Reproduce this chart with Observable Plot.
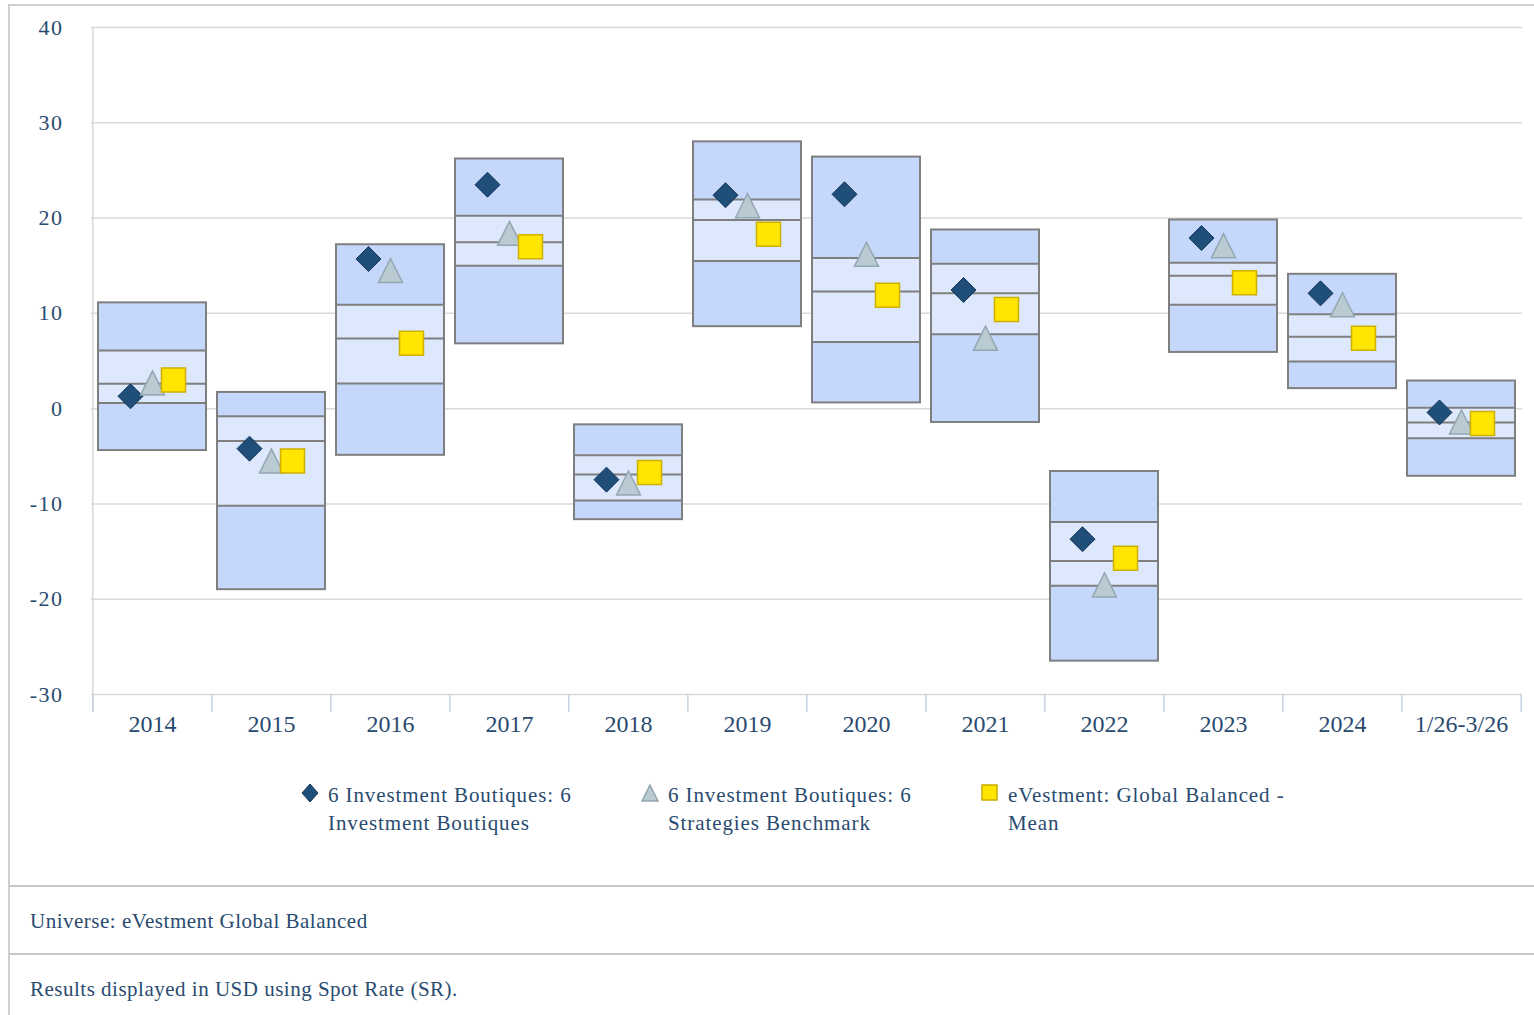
<!DOCTYPE html>
<html><head><meta charset="utf-8">
<script src="https://cdn.jsdelivr.net/npm/d3@7"></script>
<script src="https://cdn.jsdelivr.net/npm/@observablehq/plot@0.6"></script>
<style>
body{margin:0;background:#fff;}
#wrap{position:relative;width:1534px;height:1015px;overflow:hidden;font-family:"Liberation Serif","Times New Roman",serif;color:#2a4b70;}
#chart{position:absolute;left:0;top:0;}
.frameL{position:absolute;left:8px;top:4px;width:2px;height:1015px;background:#cfcfcf;}
.frameT{position:absolute;left:8px;top:4px;width:1530px;height:2px;background:#cfcfcf;}
.hsep{position:absolute;left:8px;width:1530px;height:2px;background:#c8c8c8;}
.foot{position:absolute;left:30px;font-size:21px;line-height:24px;white-space:nowrap;letter-spacing:0.5px;}
.leg{position:absolute;font-size:21px;line-height:28px;white-space:nowrap;letter-spacing:0.9px;}
.legsym{position:absolute;}
#chart svg text{font-family:"Liberation Serif","Times New Roman",serif;}
#chart g[aria-label="y-axis tick label"] text{letter-spacing:1.5px;}
</style></head><body>
<div id="wrap">
  <div class="frameL"></div><div class="frameT"></div>
  <div id="chart"></div>
  <svg class="legsym" style="left:300px;top:783px" width="20" height="20"><path d="M10,1L18,10L10,19L2,10Z" fill="#1f4e79" stroke="#16365c" stroke-width="1"/></svg>
  <div class="leg" style="left:328px;top:781px">6 Investment Boutiques: 6<br>Investment Boutiques</div>
  <svg class="legsym" style="left:640px;top:783px" width="20" height="20"><path d="M10,2L18,18L2,18Z" fill="#b9cad2" stroke="#93a7b1" stroke-width="1.5"/></svg>
  <div class="leg" style="left:668px;top:781px">6 Investment Boutiques: 6<br>Strategies Benchmark</div>
  <svg class="legsym" style="left:980px;top:783px" width="20" height="20"><rect x="2" y="2" width="15" height="15" fill="#ffe500" stroke="#c9ac00" stroke-width="1.5"/></svg>
  <div class="leg" style="left:1008px;top:781px">eVestment: Global Balanced -<br>Mean</div>
  <div class="hsep" style="top:885px"></div>
  <div class="foot" style="top:909px">Universe: eVestment Global Balanced</div>
  <div class="hsep" style="top:953px"></div>
  <div class="foot" style="top:977px">Results displayed in USD using Spot Rate (SR).</div>
</div>
<script>
const categories = ["2014","2015","2016","2017","2018","2019","2020","2021","2022","2023","2024","1/26-3/26"];
const pct5  = [11.1, 1.7, 17.2, 26.2, -1.7, 28.0, 26.4, 18.75, -6.6, 19.8, 14.1, 2.9];
const pct25 = [6.1, -0.8, 10.9, 20.25, -4.9, 21.95, 15.8, 15.2, -11.9, 15.3, 9.9, 0.1];
const pct50 = [2.6, -3.4, 7.35, 17.45, -6.9, 19.8, 12.3, 12.1, -16.0, 13.95, 7.55, -1.45];
const pct75 = [0.6, -10.2, 2.65, 15.0, -9.65, 15.5, 7.0, 7.8, -18.6, 10.9, 4.95, -3.1];
const pct95 = [-4.4, -19.0, -4.9, 6.8, -11.65, 8.6, 0.6, -1.45, -26.5, 5.9, 2.1, -7.1];
const boutiques = [1.3, -4.2, 15.7, 23.5, -7.45, 22.4, 22.5, 12.45, -13.7, 17.9, 12.1, -0.4];
const benchmark = [2.7, -5.5, 14.5, 18.4, -7.8, 21.3, 16.2, 7.4, -18.5, 17.1, 10.9, -1.4];
const universeMean = [3.0, -5.5, 6.85, 17.0, -6.7, 18.3, 11.9, 10.4, -15.7, 13.2, 7.4, -1.55];
const yTicks = [-30, -20, -10, 0, 10, 20, 30, 40];

const rows = categories.map((c, i) => ({cat: c, p5: pct5[i], p25: pct25[i], p50: pct50[i], p75: pct75[i], p95: pct95[i]}));
const quartLines = rows.flatMap(r => [{cat: r.cat, v: r.p25}, {cat: r.cat, v: r.p50}, {cat: r.cat, v: r.p75}]);
const pts = (arr) => categories.map((c, i) => ({cat: c, v: arr[i]}));

const W = 1534, mL = 91, mR = 12;
const step = (W - mL - mR) / categories.length;
const serif = '"Liberation Serif","Times New Roman",serif';

const diamond = {draw(ctx, size){ const r = Math.sqrt(size / Math.PI); ctx.moveTo(0, -r); ctx.lineTo(r, 0); ctx.lineTo(0, r); ctx.lineTo(-r, 0); ctx.closePath(); }};
const triangle = {draw(ctx, size){ const r = Math.sqrt(size / Math.PI); ctx.moveTo(0, -r); ctx.lineTo(r, r); ctx.lineTo(-r, r); ctx.closePath(); }};
const square = {draw(ctx, size){ const r = Math.sqrt(size / Math.PI); ctx.rect(-r, -r, 2 * r, 2 * r); }};

const boxStroke = "#7f7f7f";
const plot = Plot.plot({
  width: W, height: 760,
  marginLeft: mL, marginRight: mR, marginTop: 27, marginBottom: 66,
  x: {domain: categories, paddingInner: 0.094, paddingOuter: 0.047, align: 0.5, label: null},
  y: {domain: [-30, 40], label: null},
  style: {fontFamily: serif, fontSize: "22px", color: "#2a4b70", background: "transparent"},
  marks: [
    Plot.gridY(yTicks, {stroke: "#d9d9d9", strokeOpacity: 1, strokeWidth: 1.5}),
    Plot.ruleX([categories[0]], {x: d => d, dx: -step / 2, stroke: "#d9d9d9", strokeWidth: 1.5, insetBottom: -18}),
    Plot.ruleX(categories, {x: d => d, dx: -step / 2, y1: -30, y2: -30, insetBottom: -18, stroke: "#c6d3e2", strokeWidth: 1.5}),
    Plot.ruleX([categories[categories.length - 1]], {x: d => d, dx: step / 2, y1: -30, y2: -30, insetBottom: -18, stroke: "#c6d3e2", strokeWidth: 1.5}),
    Plot.axisY({ticks: yTicks, tickSize: 0, tickPadding: 28, tickFormat: d => String(d), fontSize: 22, fontFamily: serif, label: null}),
    Plot.axisX({tickSize: 0, tickPadding: 20, fontSize: 24, fontFamily: serif, label: null}),
    Plot.barY(rows, {x: "cat", y1: "p95", y2: "p5", fill: "#c5d8fc"}),
    Plot.barY(rows, {x: "cat", y1: "p75", y2: "p25", fill: "#dde8fd"}),
    Plot.tickY(quartLines, {x: "cat", y: "v", stroke: boxStroke, strokeWidth: 2}),
    Plot.barY(rows, {x: "cat", y1: "p95", y2: "p5", fill: "none", stroke: boxStroke, strokeWidth: 2}),
    Plot.dot(pts(boutiques), {x: "cat", y: "v", dx: -22, symbol: diamond, r: 12.5, fill: "#1f4e79", stroke: "#17375e", strokeWidth: 1}),
    Plot.dot(pts(benchmark), {x: "cat", y: "v", dx: 0, symbol: triangle, r: 12, fill: "#b9cad2", stroke: "#93a7b1", strokeWidth: 1.5}),
    Plot.dot(pts(universeMean), {x: "cat", y: "v", dx: 21, symbol: square, r: 12, fill: "#ffe500", stroke: "#cdb000", strokeWidth: 1.5})
  ]
});
document.getElementById("chart").appendChild(plot);
</script>
</body></html>
